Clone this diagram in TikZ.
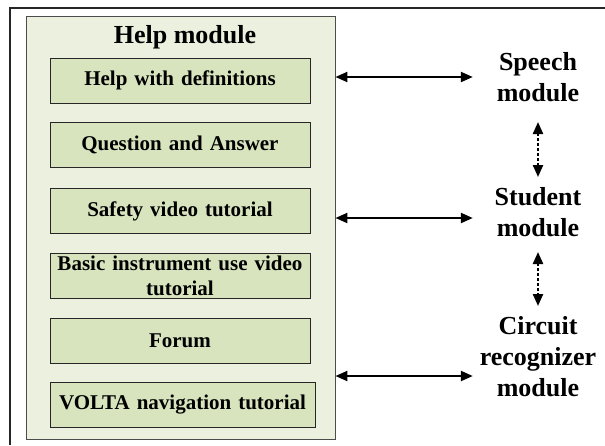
\documentclass[tikz,border=0pt]{standalone}
\usepackage{fontspec}
\setmainfont{Liberation Serif}
\usetikzlibrary{arrows.meta}

\definecolor{panelfill}{RGB}{235,241,222}
\definecolor{boxfill}{RGB}{215,228,189}

\begin{document}
\begin{tikzpicture}[x=1pt, y=-1pt,
    panel/.style={draw=black!70, fill=panelfill, line width=0.9pt},
    helpbox/.style={draw=black!85, fill=boxfill, line width=1pt, text width=250pt,
                    minimum height=45pt, inner sep=5pt, align=center,
                    font=\fontsize{21}{25}\selectfont\bfseries},
    modlabel/.style={text width=120pt, inner sep=5pt, align=center,
                     font=\fontsize{26}{31}\selectfont\bfseries},
    link/.style={line width=2.2pt, {Triangle[length=12pt,width=10pt]}-{Triangle[length=12pt,width=10pt]}},
    dlink/.style={link, dash pattern=on 3pt off 2pt}]
    \useasboundingbox (0,0) rectangle (605,445);

    % Frame
    \draw [line width=1.6pt, black!85] (605,8) -- (10,8) -- (10,445);

    % Help module panel
    \node [panel, minimum width=309pt, minimum height=423pt] (panel) at (180.5,227.5) {};
    \node [font=\fontsize{26}{31}\selectfont\bfseries] (title) at (185,37) {Help module};

    % Help items
    \node [helpbox] (defs) at (180,80.5) {Help with definitions};
    \node [helpbox] (qa) at (180,144.5) {Question and Answer};
    \node [helpbox] (safety) at (180,211) {Safety video tutorial};
    \node [helpbox, inner ysep=1pt] (instr) at (180,275.5) {Basic instrument use video\\ tutorial};
    \node [helpbox] (forum) at (180,340.5) {Forum};
    \node [helpbox, text width=255pt] (volta) at (182.5,404.5) {VOLTA navigation tutorial};

    % Other modules
    \node [modlabel] (speech) at (538,77) {Speech\\ module};
    \node [modlabel] (student) at (538,212) {Student\\ module};
    \node [modlabel] (circuit) at (538,357) {Circuit\\ recognizer\\ module};

    % Links to the help module
    \draw [link] (panel.east |- speech.west) -- (speech.west);
    \draw [link] (panel.east |- 0,218) -- ([yshift=-6pt]student.west);
    \draw [link] (panel.east |- 0,376) -- ([yshift=-19pt]circuit.west);

    % Links between modules
    \draw [dlink] (538,122) -- (538,177);
    \draw [dlink] (538,252) -- (538,306);
\end{tikzpicture}
\end{document}
